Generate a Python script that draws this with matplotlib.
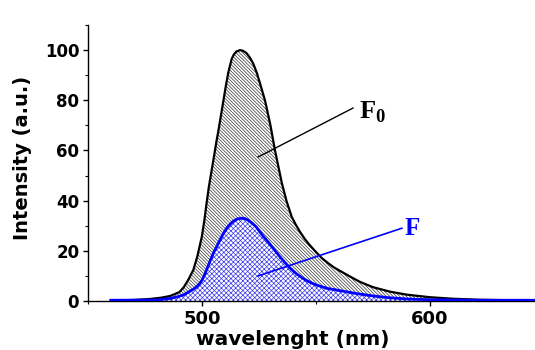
import matplotlib
matplotlib.use("Agg")
import matplotlib.pyplot as plt
from matplotlib.ticker import MultipleLocator

# ---- data ----
wl_f0 = [460, 470, 477, 482, 486, 490, 492, 494, 496.2, 498, 499.9, 501, 502, 503,
         504.2, 505.5, 506.3, 507.2, 508.3, 509.4, 510.5, 511.5, 513, 514, 515,
         516.7, 518, 519.5, 521, 522.5, 524, 525.5, 527.6, 530, 532, 535, 537,
         539.3, 541, 543, 545, 547, 550, 552.5, 555.4, 558, 560.5, 565.6, 569.3,
         575, 582.5, 590, 600, 610, 622, 635, 650]
int_f0 = [0.2, 0.4, 0.8, 1.3, 2.0, 3.5, 5.5, 8.5, 12.4, 18, 25.6, 32, 39, 45.5,
          52, 59, 63.5, 68, 74, 80, 86, 91, 96.5, 98.3, 99.4,
          100, 99.7, 98.8, 97, 94.5, 91, 86.5, 80, 70, 60, 47, 40,
          33.6, 30.6, 27.5, 24.8, 22.5, 19.5, 17.1, 15, 13.3, 12.0, 9.4, 7.6,
          5.5, 3.7, 2.5, 1.5, 0.9, 0.5, 0.3, 0.2]

wl_f = [460, 480, 486, 489, 491.8, 494, 496, 497.7, 499, 500, 501, 502, 503, 504,
        505.2, 506.4, 507.7, 509, 510.8, 512.2, 513.6, 515.5, 517.4, 519, 520.5,
        522, 523.7, 525, 526.5, 528, 529.5, 531, 532.5, 534, 535.4, 537, 538.5,
        541.2, 543, 545, 547.5, 550, 555, 560, 567.5, 575, 582, 590, 600, 620, 650]
int_f = [0.3, 0.4, 1.0, 1.6, 2.4, 3.5, 4.6, 5.7, 7.0, 8.3, 10.2, 12.4, 14.7, 17,
         19.5, 21.6, 24, 26.3, 29, 30.5, 31.7, 32.7, 33, 32.8, 32,
         31, 29.6, 28, 26.2, 24.6, 23, 21.2, 19.5, 17.8, 16.3, 14.7, 13.2,
         11, 9.8, 8.6, 7.4, 6.4, 5.0, 4.2, 3.0, 2.0, 1.3, 0.8, 0.5, 0.3, 0.3]

xticks = [500, 600]
yticks = [0, 20, 40, 60, 80, 100]

plt.rcParams['hatch.linewidth'] = 0.5
plt.rcParams['mathtext.fontset'] = 'custom'
plt.rcParams['mathtext.bf'] = 'Liberation Serif:bold'
plt.rcParams['mathtext.rm'] = 'Liberation Serif:bold'

fig = plt.figure(figsize=(5.35, 3.5), dpi=100)
ax = fig.add_axes([88/535, 49/350, 1 - 88/535, (301-25)/350])

ax.fill_between(wl_f0, int_f0, 0, facecolor='white', edgecolor='#333333',
                hatch='\\' * 10, linewidth=0, zorder=1)
ax.fill_between(wl_f, int_f, 0, facecolor='white', edgecolor='#3a3ae8',
                hatch='x' * 7, linewidth=0, zorder=2)
ax.plot(wl_f0, int_f0, color='black', lw=1.6, zorder=3)
ax.plot(wl_f, int_f, color='#0000ff', lw=2.0, zorder=4)

# annotation lines
ax.plot([524.6, 566.2], [57.4, 76.9], color='black', lw=1.0, zorder=5)
ax.plot([524.6, 587.6], [10.0, 29.0], color='#0000ff', lw=1.2, zorder=5)
ax.text(568.8, 75.5, r'$\mathbf{F}_{\mathbf{0}}$', fontsize=19, color='black',
        ha='left', va='center', zorder=6)
ax.text(589.0, 29.0, 'F', fontsize=18, color='#0000ff', fontweight='bold',
        family='Liberation Serif', ha='left', va='center', zorder=6)

ax.set_xlim(450, 646)
ax.set_ylim(0, 110)
ax.set_xticks(xticks)
ax.set_yticks(yticks)
ax.xaxis.set_minor_locator(MultipleLocator(50))
ax.yaxis.set_minor_locator(MultipleLocator(10))
ax.spines['top'].set_visible(False)
ax.spines['right'].set_visible(False)
for s in ['left', 'bottom']:
    ax.spines[s].set_linewidth(1.0)
ax.tick_params(which='major', direction='out', length=3.8, width=1.0, pad=2.5)
ax.tick_params(which='minor', direction='out', length=2.2, width=0.8)
ax.tick_params(axis='y', labelsize=12)
ax.tick_params(axis='x', labelsize=13)
for lab in ax.get_xticklabels() + ax.get_yticklabels():
    lab.set_fontweight('bold')
    lab.set_family('DejaVu Sans')

ax.set_ylabel('Intensity (a.u.)', fontsize=14, fontweight='bold', family='DejaVu Sans')
ax.yaxis.set_label_coords(-0.125, 0.52)
ax.set_xlabel('wavelenght (nm)', fontsize=14.5, fontweight='bold', family='DejaVu Sans',
              va='bottom')
ax.xaxis.set_label_coords(0.459, -49/276 + 1/276)

fig.savefig('out.png', dpi=100)
